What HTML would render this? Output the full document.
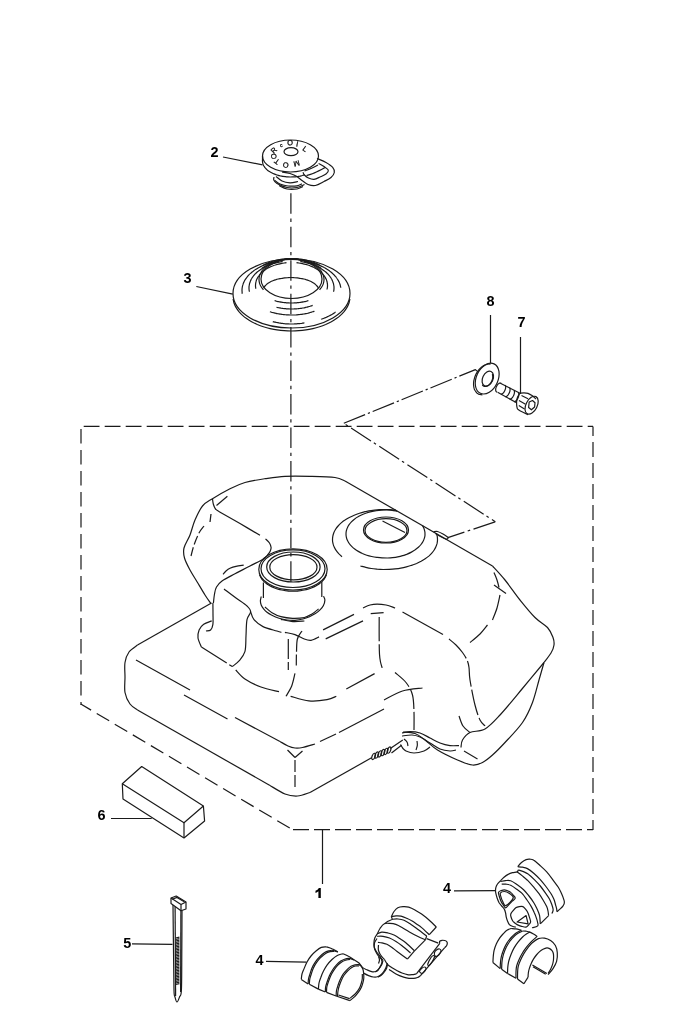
<!DOCTYPE html>
<html><head><meta charset="utf-8"><title>Oil tank</title>
<style>
html,body{margin:0;padding:0;background:#fff;}
body{width:700px;height:1025px;overflow:hidden;font-family:"Liberation Sans",sans-serif;}
svg{display:block;filter:grayscale(1);}
svg path,svg ellipse{fill:none;stroke:#1a1a1a;stroke-width:1.2;stroke-linecap:butt;stroke-linejoin:round;}
svg text{font-family:"Liberation Sans",sans-serif;font-weight:bold;fill:#000;stroke:none;}
</style></head><body>
<svg width="700" height="1025" viewBox="0 0 700 1025">
<rect x="0" y="0" width="700" height="1025" fill="#fff" stroke="none"/>
<path d="M83.7,426.3 L593,426.3" stroke-width="1.55" stroke-dasharray="15.8 5.2"/>
<path d="M81,429 L81,705" stroke-width="1.55" stroke-dasharray="14.5 6.5"/>
<path d="M593,426.4 L593,830" stroke-width="1.55" stroke-dasharray="15 6" stroke-dashoffset="5.4"/>
<path d="M80.8,704 L293,830" stroke-width="1.55" stroke-dasharray="14.5 6.5" stroke-dashoffset="2.5"/>
<path d="M293,829.6 L593,829.6" stroke-width="1.55" stroke-dasharray="16 5"/>
<text transform="translate(210.4 156.9) scale(1.01 1)" x="0" y="0" font-size="14.3">2</text>
<text transform="translate(183.4 283) scale(1.01 1)" x="0" y="0" font-size="14.3">3</text>
<text transform="translate(486.6 306.4) scale(1.01 1)" x="0" y="0" font-size="14.3">8</text>
<text transform="translate(517.6 327) scale(1.01 1)" x="0" y="0" font-size="14.3">7</text>
<text transform="translate(97.4 819.7) scale(1.01 1)" x="0" y="0" font-size="14.3">6</text>
<path d="M320.8,897.9 L318.4,897.9 L318.4,891.2 C317.5,892 316.6,892.6 315.5,893 L315.5,890.8 C317,890.1 318.2,889.1 318.9,887.9 L320.8,887.9 Z" style="fill:#000;stroke:none"/>
<text transform="translate(123.2 947.6) scale(1.01 1)" x="0" y="0" font-size="14.3">5</text>
<text transform="translate(255.4 964.8) scale(1.01 1)" x="0" y="0" font-size="14.3">4</text>
<text transform="translate(443 893) scale(1.01 1)" x="0" y="0" font-size="14.3">4</text>
<path d="M223,157 L262.5,164.8" stroke-width="1.45"/>
<path d="M196.3,286.5 L232.8,294.2" stroke-width="1.45"/>
<path d="M490.5,315 L490.5,363" stroke-width="1.3"/>
<path d="M520.5,337 L520.5,394" stroke-width="1.3"/>
<path d="M111,818.5 L151.7,818.5" stroke-width="1.3"/>
<path d="M322.5,830 L322.5,884" stroke-width="1.5"/>
<path d="M132,943.8 L172.5,944.4" stroke-width="1.45"/>
<path d="M266,961.4 L306.4,962.2" stroke-width="1.45"/>
<path d="M454,890.8 L496,890.6" stroke-width="1.45"/>
<path d="M290.9,193.3 L290.9,581.7" stroke-width="1.25" stroke-dasharray="20.5 4.8 3.3 4.85"/>
<path d="M343.8,423.3 L475.4,369.6 L478.3,372.1" stroke-width="1.2" stroke-dasharray="23 3 2.2 3"/>
<path d="M343.8,423.3 L495.3,521.8" stroke-width="1.2" stroke-dasharray="23.7 3.4 2.6 3.9" stroke-dashoffset="24.9"/>
<path d="M495.3,521.8 L447.9,537.6" stroke-width="1.2" stroke-dasharray="22 3.5 2.6 3.5 30 0" stroke-dashoffset="-1"/>
<path d="M211,603.7 C210,602.2 207.2,598.5 205,595 C202.8,591.5 200,586.7 197.5,582.5 C195,578.3 192.2,574.1 190,570 C187.8,565.9 185.5,561.7 184.5,558 C183.5,554.3 183.1,551.8 184,548 C184.9,544.2 188.2,539.7 190,535 C191.8,530.3 192.9,524.8 195,520 C197.1,515.2 199.6,509.6 202.5,506 C205.4,502.4 207.9,501.6 212.5,498.7 C217.1,495.8 224.6,491.4 230,488.7 C235.4,486 239.2,484.2 245,482.5 C250.8,480.8 258.3,479.7 265,478.7 C271.7,477.7 277.5,476.7 285,476.3 C292.5,475.9 301.7,476.1 310,476.3 C318.3,476.5 329.2,476.7 335,477.5 C340.8,478.3 343.3,480.4 345,481" stroke-width="1.3"/>
<path d="M345,481 L492.5,566" stroke-width="1.3"/>
<path d="M492.5,566 C494.6,568.3 500.4,574.3 505,580 C509.6,585.7 515,593.8 520,600 C525,606.2 530.4,612.9 535,617.5 C539.6,622.1 544.5,624.2 547.5,627.5 C550.5,630.8 551.9,634.6 553,637.5 C554.1,640.4 554.3,642.4 554,645 C553.7,647.6 552.7,650.1 551,653 C549.3,655.9 545.2,660.9 544,662.5" stroke-width="1.3"/>
<path d="M544,662.5 C543.2,665.4 540.9,673.3 539,680 C537.1,686.7 535.2,695.4 532.5,702.5 C529.8,709.6 527.1,715.8 522.5,722.5 C517.9,729.2 510,737.1 505,742.5 C500,747.9 496.2,751.7 492.5,755 C488.8,758.3 485.8,760.8 482.5,762.5 C479.2,764.2 476.7,765.4 472.5,765 C468.3,764.6 463.3,762.5 457.5,760 C451.7,757.5 442.9,753.3 437.5,750 C432.1,746.7 428.8,742.8 425,740 C421.2,737.2 418.7,734.8 415,733.5 C411.3,732.2 405,732.2 403,732" stroke-width="1.3"/>
<path d="M211.5,603 L137.5,645" stroke-width="1.3"/>
<path d="M137.5,645 C136.1,646.2 131.1,649.1 129,652 C126.9,654.9 125.7,658.3 125,662.5 C124.3,666.7 125,672 125,677 C125,682 124.2,688 125,692.5 C125.8,697 127.9,701.1 130,704 C132.1,706.9 136.2,709 137.5,710" stroke-width="1.3"/>
<path d="M137.5,710 L270,785.5" stroke-width="1.3"/>
<path d="M270,785.5 C272.5,786.9 280.4,792.2 285,794 C289.6,795.8 293.3,796.2 297.5,796 C301.7,795.8 307.9,793.1 310,792.5" stroke-width="1.3"/>
<path d="M310,792.5 L371.5,757.8" stroke-width="1.3"/>
<path d="M544,662.5 C540.3,666.9 529.3,680.2 522,689 C514.7,697.8 506.2,708.3 500,715 C493.8,721.7 490,726.1 485,729 C480,731.9 473.8,730.7 470,732.5 C466.2,734.3 464,737.5 462.5,740 C461,742.5 461.2,746.2 461,747.5" stroke-width="1.3"/>
<path d="M464,751 L477.5,759" stroke-width="1.3"/>
<path d="M459,716 C459.7,717.7 461.2,723.2 463,726 C464.8,728.8 468.8,731.4 470,732.5" stroke-width="1.3"/>
<path d="M402,733 C403.3,732.8 407,731.6 410,731.6 C413,731.6 416.7,731.9 420,733 C423.3,734.1 426.7,736.3 430,738 C433.3,739.7 436.7,741.7 440,743 C443.3,744.3 446.8,745.2 450,745.6 C453.2,746 457.5,745.6 459,745.6" stroke-width="1.3"/>
<path d="M402,736 C403.7,735.8 409,734.8 412,735 C415,735.2 417,735.7 420,737 C423,738.3 426.7,741 430,743 C433.3,745 436.7,747.7 440,749 C443.3,750.3 447.3,750.8 450,751 C452.7,751.2 455,750.2 456,750" stroke-width="1.3"/>
<path d="M400.5,744.5 C400.9,745.2 402.1,747.4 403,748.5 C403.9,749.6 404.2,750.2 406,751 C407.8,751.8 411,753 414,753 C417,753 421.3,752 424,751 C426.7,750 429,747.7 430,747" stroke-width="1.3"/>
<path d="M404,739 C404.5,739.5 406.3,740.8 407,742 C407.7,743.2 407.8,745.3 408,746" stroke-width="1.3"/>
<path d="M417,741 C417.1,741.8 417.5,744 417.3,745.5 C417.1,747 416.2,749.2 416,750" stroke-width="1.3"/>
<ellipse cx="373.6" cy="756.4" rx="1.5" ry="3.3" stroke-width="0.95" transform="rotate(22 373.6 756.4)"/>
<ellipse cx="376.7" cy="755.1" rx="1.5" ry="3.3" stroke-width="0.95" transform="rotate(22 376.7 755.1)"/>
<ellipse cx="379.8" cy="753.9" rx="1.5" ry="3.3" stroke-width="0.95" transform="rotate(22 379.8 753.9)"/>
<ellipse cx="382.9" cy="752.6" rx="1.5" ry="3.3" stroke-width="0.95" transform="rotate(22 382.9 752.6)"/>
<ellipse cx="386" cy="751.4" rx="1.5" ry="3.3" stroke-width="0.95" transform="rotate(22 386 751.4)"/>
<ellipse cx="389.1" cy="750.1" rx="1.5" ry="3.3" stroke-width="0.95" transform="rotate(22 389.1 750.1)"/>
<path d="M390.3,748.6 L402.8,740" stroke-width="1.1"/>
<path d="M391.5,753 L401.5,745.2" stroke-width="1.1"/>
<path d="M227.4,496.3 L216.5,505.5" stroke-width="1.3"/>
<path d="M211,514 L210,522" stroke-width="1.3"/>
<path d="M204,526 C203.2,527.2 200.7,529.8 199,533 C197.3,536.2 195.3,541.2 194,545 C192.7,548.8 191.5,554.2 191,556" stroke-width="1.3" stroke-dasharray="9 3"/>
<path d="M212.5,498.8 C212.6,499.7 212.8,502.3 213.3,504 C213.8,505.7 214.4,507.7 215.5,509 C216.6,510.3 215.6,509.5 219.7,511.9 C223.8,514.3 233.3,519.7 240,523.6 C246.7,527.5 256.7,533.3 260,535.3" stroke-width="1.3"/>
<path d="M265.5,538.8 C266.2,539.5 268.6,541.5 269.5,543 C270.4,544.5 271,546.2 271.1,547.5 C271.2,548.8 270.8,549.8 270.3,551 C269.8,552.2 269.1,553.2 268,554.5 C266.9,555.8 266.4,557 263.4,558.9 C260.4,560.8 254.7,563.5 250,566 C245.3,568.5 239.7,571.3 235,573.8 C230.3,576.3 225.1,578.8 222,581 C218.9,583.2 217.8,584.8 216.5,587 C215.2,589.2 215,591.3 214.5,594 C214,596.7 213.6,601.5 213.4,603" stroke-width="1.3"/>
<path d="M223.1,574.3 C223.6,573.8 224.8,572 226,571 C227.2,570 228.3,569.1 230,568.3 C231.7,567.5 233.7,566.8 236,566.3 C238.3,565.8 242.4,565.4 243.7,565.2" stroke-width="1.3"/>
<path d="M212.9,603 C212.9,604.8 213,610.5 213,614 C213,617.5 213.3,621.6 212.9,624.3 C212.5,627 211.8,628.9 210.6,630 C209.4,631.1 206.8,630.8 206,631" stroke-width="1.3"/>
<path d="M211.7,620.9 C210.4,621.5 205.8,622.8 203.7,624.3 C201.6,625.8 200,627.7 199.1,630 C198.2,632.3 197.6,635.2 198,638 C198.4,640.8 200.8,645.5 201.4,647" stroke-width="1.3"/>
<path d="M201.4,647 L232.3,666.6" stroke-width="1.3" stroke-dasharray="30 3"/>
<path d="M224,589 C226,590.5 232.2,595.2 236,598 C239.8,600.8 244.6,603.7 247,606 C249.4,608.3 250.6,609.4 250.6,611.7 C250.6,614 247.8,615.7 247,619.7 C246.2,623.7 246.3,630.4 246,635.7 C245.7,641 246.1,647.5 244.9,651.7 C243.7,655.9 241.1,658.4 239,660.9 C236.9,663.4 233.4,665.6 232.3,666.6" stroke-width="1.3"/>
<path d="M250.6,611.7 C251.2,613 251.9,617.2 254,619.7 C256.1,622.2 259.2,624.7 263,626.6 C266.8,628.5 273.8,630 276.9,631 C280,632 280.6,632.1 281.4,632.3" stroke-width="1.3"/>
<path d="M284.9,632.3 C286.6,632.7 291.8,633.5 295,634.6 C298.2,635.7 301.6,638 304.3,639 C307,640 308.6,640.6 311,640.3 C313.4,639.9 317.7,637.5 319,636.9" stroke-width="1.3"/>
<path d="M323.1,629.9 L354,614.4" stroke-width="1.3"/>
<path d="M325.7,638.9 L363,620.9" stroke-width="1.3"/>
<path d="M363,608 C364.2,607.5 367.6,605.6 370,605 C372.4,604.4 374.4,604.1 377.1,604.1 C379.8,604.1 383,604.4 386,605 C389,605.6 393.6,607.5 395.1,608" stroke-width="1.3"/>
<path d="M370.7,613.7 L383.6,612.6" stroke-width="1.3"/>
<path d="M288.3,639 L288.3,670" stroke-width="1.3" stroke-dasharray="20 3"/>
<path d="M302,631 C301.2,632.3 298.3,635.5 297.4,639 C296.5,642.5 296.7,647.6 296.5,652 C296.3,656.4 296.3,663.2 296.3,665.4" stroke-width="1.3" stroke-dasharray="22 3"/>
<path d="M295,673.4 C294.4,675.5 293.2,682.2 291.7,686 C290.2,689.8 286.9,694.6 286,696.3" stroke-width="1.3"/>
<path d="M235.7,670 C237.2,671.5 240.7,676.2 244.9,679 C249.1,681.8 255.2,684.9 260.9,687 C266.6,689.1 276,690.9 279,691.7" stroke-width="1.3"/>
<path d="M290.6,696.3 C293.7,697.1 302.8,700.3 308.9,700.9 C315,701.5 322.4,700.5 327,699.7 C331.6,698.9 334.8,696.9 336.3,696.3" stroke-width="1.3"/>
<path d="M346.3,689 L374.6,673.6" stroke-width="1.3"/>
<path d="M136,660 L190,690" stroke-width="1.3"/>
<path d="M184,695 L227.5,719" stroke-width="1.3"/>
<path d="M235,717.5 L280,741.5" stroke-width="1.3"/>
<path d="M280,741.5 C281.3,742.2 285.5,744.9 288,746 C290.5,747.1 292.6,747.8 295,748 C297.4,748.2 299.2,748.2 302.5,747.5 C305.8,746.8 312.9,744.6 315,744" stroke-width="1.3"/>
<path d="M320,741.5 L336,734" stroke-width="1.3"/>
<path d="M339,732.5 L384,709" stroke-width="1.3"/>
<path d="M384,700 C387.1,698.5 396.1,693 402.5,691 C408.9,689 419.2,688.5 422.5,688" stroke-width="1.3"/>
<path d="M287.5,750 L295,757.5" stroke-width="1.3"/>
<path d="M302.5,751 L295,757.5" stroke-width="1.3"/>
<path d="M295,760 L295,790" stroke-width="1.3" stroke-dasharray="12 3"/>
<path d="M379.2,617 C379.2,620.8 379.1,633.8 379.2,640 C379.2,646.2 379.3,650.6 379.5,654.3 C379.7,658 380,659.6 380.5,662 C381,664.4 382,667.3 382.3,668.4" stroke-width="1.3" stroke-dasharray="24 3"/>
<path d="M395,672.5 C396.8,674.2 403.1,678.8 406,682.5 C408.9,686.2 411.2,690 412.5,695 C413.8,700 413.8,706.7 414,712.5 C414.2,718.3 414,727.1 414,730" stroke-width="1.3" stroke-dasharray="20 3"/>
<path d="M402.5,612 L443,634.5" stroke-width="1.3"/>
<path d="M449,639 C450.2,640 453.8,642.8 456,645 C458.2,647.2 460.7,650 462.5,652.5 C464.3,655 465.9,657.5 467,660 C468.1,662.5 468.5,664.2 469,667.5 C469.5,670.8 469,673.8 470,680 C471,686.2 473.3,698.3 475,705 C476.7,711.7 478.3,716.5 480,720 C481.7,723.5 484.2,725 485,726" stroke-width="1.3" stroke-dasharray="26 3"/>
<path d="M494,572.5 C494.5,573.8 496.2,577.5 497,580 C497.8,582.5 498.7,586.2 499,587.5" stroke-width="1.3"/>
<path d="M494,585 L506,593.5" stroke-width="1.3"/>
<path d="M500,595 C499.5,597.2 498.2,603.8 497,608 C495.8,612.2 493.2,618 492.5,620" stroke-width="1.3"/>
<path d="M487.5,625 C486.2,626.5 482.9,631.1 480,634 C477.1,636.9 471.7,641.1 470,642.5" stroke-width="1.3"/>
<ellipse cx="293" cy="569.4" rx="34.2" ry="20.6" stroke-width="1.4"/>
<ellipse cx="293" cy="568.7" rx="32" ry="18.8" stroke-width="1.1"/>
<path d="M326.5,574.9 C326.3,575.3 325.8,576.4 325.4,577.1 C325,577.9 324.5,578.6 324,579.3 C323.5,580 322.8,580.7 322.2,581.4 C321.5,582 320.7,582.7 319.9,583.3 C319.2,583.9 318.3,584.5 317.4,585 C316.5,585.6 315.5,586.1 314.5,586.6 C313.5,587.1 312.5,587.6 311.4,588 C310.3,588.4 309.2,588.8 308,589.1 C306.8,589.5 305.6,589.8 304.4,590 C303.2,590.3 302,590.5 300.7,590.7 C299.4,590.8 298.2,591 296.9,591.1 C295.6,591.2 294.3,591.2 293,591.2 C291.7,591.2 290.4,591.2 289.1,591.1 C287.8,591 286.6,590.8 285.3,590.7 C284,590.5 282.8,590.3 281.6,590 C280.4,589.8 279.2,589.5 278,589.1 C276.8,588.8 275.7,588.4 274.6,588 C273.5,587.6 272.5,587.1 271.5,586.6 C270.5,586.1 269.5,585.6 268.6,585 C267.7,584.5 266.8,583.9 266.1,583.3 C265.3,582.7 264.5,582 263.8,581.4 C263.2,580.7 262.5,580 262,579.3 C261.5,578.6 261,577.9 260.6,577.1 C260.2,576.4 259.7,575.3 259.5,574.9" stroke-width="1"/>
<ellipse cx="293.4" cy="567" rx="26.7" ry="15" stroke-width="1.6"/>
<ellipse cx="293.4" cy="567.2" rx="23.6" ry="12.6" stroke-width="1.2"/>
<path d="M263.4,582.5 L263.4,598" stroke-width="1.3"/>
<path d="M321.8,582 L321.8,597" stroke-width="1.3"/>
<path d="M261.2,596.5 C261.1,597.2 260.4,599.6 260.4,601 C260.4,602.4 260.7,603.7 261.2,605 C261.7,606.3 262.6,607.7 263.6,608.9 C264.6,610.1 265.7,611.3 267,612.3 C268.3,613.3 269.4,614 271.4,615 C273.4,616 276.4,617.4 279,618.2 C281.6,619 284.3,619.6 287,620 C289.7,620.4 292.4,620.5 295,620.3 C297.6,620.1 300.5,619.6 302.9,619 C305.3,618.4 307.4,617.6 309.5,616.7 C311.6,615.8 313.6,614.8 315.4,613.6 C317.1,612.5 318.7,611.1 320,609.8 C321.3,608.5 322.5,607.3 323.3,605.7 C324.1,604.1 324.9,601.6 324.9,600 C324.9,598.4 323.7,596.9 323.5,596.3" stroke-width="1.3"/>
<path d="M265,607 C266.2,608 269.4,611.2 272,612.8 C274.6,614.4 277.5,615.8 280.9,616.7 C284.3,617.6 288.6,618.2 292.5,618.3 C296.4,618.4 301.1,618.2 304.4,617.5 C307.6,616.8 309.6,615.4 312,614 C314.4,612.6 317.5,609.8 318.6,608.9" stroke-width="1.3"/>
<path d="M280.9,619.3 C282.9,619.7 289.1,621.3 293,621.6 C296.9,621.9 302.5,621.1 304.4,621" stroke-width="1.3"/>
<ellipse cx="386" cy="530" rx="22.5" ry="13" stroke-width="1.3"/>
<ellipse cx="386" cy="530.5" rx="21" ry="11.8" stroke-width="1"/>
<path d="M422.6,525.7 C422.8,526.2 423.7,527.8 424.1,528.8 C424.4,529.8 424.7,530.9 424.9,532 C425,533 425,534.1 425,535.2 C424.9,536.3 424.7,537.3 424.3,538.4 C424,539.4 423.6,540.5 423,541.5 C422.5,542.5 421.8,543.5 421,544.5 C420.3,545.5 419.4,546.4 418.4,547.3 C417.4,548.2 416.3,549 415.2,549.8 C414,550.6 412.7,551.4 411.4,552.1 C410.1,552.8 408.7,553.5 407.2,554.1 C405.7,554.6 404.2,555.2 402.6,555.6 C401,556.1 399.3,556.5 397.7,556.8 C396,557.2 394.3,557.4 392.5,557.6 C390.8,557.8 389,557.9 387.3,558 C385.5,558 383.7,558 382,557.9 C380.2,557.8 378.5,557.6 376.7,557.4 C375,557.2 373.3,556.9 371.7,556.5 C370,556.1 368.4,555.7 366.8,555.2 C365.3,554.7 363.8,554.1 362.4,553.5 C360.9,552.8 359.6,552.1 358.3,551.4 C357,550.7 355.8,549.9 354.7,549 C353.6,548.2 352.6,547.3 351.7,546.4 C350.8,545.5 349.9,544.5 349.2,543.5 C348.5,542.5 348,541.5 347.5,540.5 C347,539.5 346.6,538.4 346.4,537.3 C346.1,536.3 346,535.2 346,534.1 C346,533.1 346.1,532 346.3,530.9 C346.6,529.9 346.9,528.8 347.4,527.8 C347.8,526.7 348.4,525.7 349.1,524.7 C349.8,523.7 350.5,522.8 351.4,521.8 C352.3,520.9 353.3,520 354.4,519.2 C355.5,518.3 356.7,517.5 358,516.8 C359.2,516 360.6,515.3 362,514.7 C363.4,514.1 364.9,513.5 366.5,513 C368,512.5 369.6,512 371.3,511.6 C372.9,511.2 374.6,510.9 376.3,510.7 C378,510.4 379.8,510.2 381.5,510.1 C383.3,510 385.1,510 386.8,510 C388.6,510 390.4,510.2 392.1,510.3 C393.8,510.5 396.4,511 397.2,511.1" stroke-width="1.3"/>
<path d="M395.9,510.2 C394.9,510.1 391.8,509.7 389.7,509.6 C387.6,509.5 385.5,509.5 383.4,509.5 C381.4,509.5 379.3,509.7 377.2,509.8 C375.1,510 373.1,510.3 371.1,510.6 C369,510.9 367.1,511.3 365.1,511.7 C363.2,512.2 361.3,512.7 359.5,513.3 C357.6,513.9 355.9,514.5 354.2,515.2 C352.5,515.9 350.9,516.7 349.3,517.5 C347.8,518.3 346.3,519.2 345,520.1 C343.6,521 342.4,521.9 341.2,522.9 C340.1,523.9 339,525 338.1,526 C337.1,527.1 336.3,528.2 335.6,529.3 C334.9,530.5 334.3,531.6 333.8,532.8 C333.4,533.9 333,535.1 332.8,536.3 C332.6,537.5 332.5,538.7 332.5,539.9 C332.5,541.1 332.7,542.3 333,543.5 C333.2,544.6 333.6,545.8 334.2,547 C334.7,548.1 335.3,549.3 336.1,550.4 C336.8,551.5 337.7,552.6 338.7,553.7 C339.7,554.7 341.4,556.2 342,556.7" stroke-width="1.3"/>
<path d="M360.4,566 C361.3,566.2 363.9,567 365.8,567.4 C367.6,567.8 369.5,568.2 371.4,568.5 C373.3,568.8 375.3,569 377.2,569.2 C379.2,569.3 381.2,569.4 383.2,569.5 C385.1,569.5 387.1,569.5 389.1,569.4 C391.1,569.3 393.1,569.2 395,568.9 C397,568.7 398.9,568.5 400.8,568.1 C402.7,567.8 404.5,567.4 406.4,566.9 C408.2,566.4 409.9,565.9 411.6,565.3 C413.4,564.8 415,564.1 416.6,563.5 C418.2,562.8 419.7,562 421.1,561.3 C422.6,560.5 423.9,559.7 425.2,558.8 C426.5,557.9 427.7,557 428.8,556.1 C429.9,555.1 430.9,554.1 431.8,553.1 C432.7,552.1 433.5,551.1 434.2,550 C434.9,548.9 435.5,547.9 435.9,546.8 C436.4,545.7 436.8,544.5 437.1,543.4 C437.3,542.3 437.5,541.2 437.5,540 C437.5,538.9 437.4,537.8 437.3,536.6 C437.1,535.5 436.5,533.8 436.4,533.3" stroke-width="1.3"/>
<path d="M382.5,521 L405,532.5" stroke-width="1.3"/>
<path d="M433.5,531.8 C434.2,531.8 435.9,531.1 437.5,531.5 C439.1,531.9 441.2,533 443,534 C444.8,535 447.4,537 448.3,537.6" stroke-width="1"/>
<path d="M435.5,533.5 C436.4,534 439.2,535.8 441,536.8 C442.8,537.8 445.3,539.1 446.5,539.2 C447.7,539.3 448,537.9 448.3,537.6" stroke-width="1"/>
<ellipse cx="291.5" cy="293.5" rx="58.5" ry="34.5" stroke-width="1.2"/>
<path d="M349.9,298.9 C349.7,299.6 349.4,301.8 348.9,303.2 C348.4,304.6 347.8,306 347,307.4 C346.3,308.7 345.3,310.1 344.3,311.4 C343.3,312.6 342.1,313.9 340.7,315.1 C339.4,316.3 338,317.5 336.4,318.6 C334.9,319.7 333.2,320.8 331.4,321.7 C329.6,322.7 327.7,323.6 325.7,324.5 C323.8,325.3 321.7,326.1 319.6,326.8 C317.4,327.5 315.2,328.1 312.9,328.6 C310.7,329.1 308.3,329.6 306,329.9 C303.6,330.3 301.2,330.6 298.8,330.7 C296.4,330.9 293.9,331 291.5,331 C289.1,331 286.6,330.9 284.2,330.7 C281.8,330.6 279.4,330.3 277,329.9 C274.7,329.6 272.3,329.1 270.1,328.6 C267.8,328.1 265.6,327.5 263.4,326.8 C261.3,326.1 259.2,325.3 257.3,324.5 C255.3,323.6 253.4,322.7 251.6,321.7 C249.8,320.8 248.1,319.7 246.6,318.6 C245,317.5 243.6,316.3 242.3,315.1 C240.9,313.9 239.7,312.6 238.7,311.4 C237.7,310.1 236.7,308.7 236,307.4 C235.2,306 234.6,304.6 234.1,303.2 C233.6,301.8 233.3,299.6 233.1,298.9" stroke-width="1.1"/>
<ellipse cx="291.5" cy="279" rx="30.5" ry="19.5" stroke-width="2.6"/>
<path d="M263.4,289.8 C263,289.2 261.6,287.6 261,286.5 C260.3,285.4 259.8,284.2 259.5,283.1 C259.2,281.9 259,280.7 259,279.5 C259,278.3 259.2,277.1 259.5,275.9 C259.8,274.8 260.3,273.6 261,272.5 C261.6,271.4 262.4,270.3 263.4,269.2 C264.3,268.2 265.4,267.2 266.6,266.3 C267.8,265.4 269.2,264.6 270.6,263.8 C272.1,263 273.6,262.3 275.2,261.7 C276.9,261.2 278.6,260.6 280.4,260.2 C282.2,259.8 284,259.5 285.9,259.3 C287.7,259.1 289.6,259 291.5,259 C293.4,259 295.3,259.1 297.1,259.3 C299,259.5 300.8,259.8 302.6,260.2 C304.4,260.6 306.1,261.2 307.8,261.7 C309.4,262.3 310.9,263 312.4,263.8 C313.8,264.6 315.2,265.4 316.4,266.3 C317.6,267.2 318.7,268.2 319.6,269.2 C320.6,270.3 321.4,271.4 322,272.5 C322.7,273.6 323.2,274.8 323.5,275.9 C323.8,277.1 324,278.3 324,279.5 C324,280.7 323.8,281.9 323.5,283.1 C323.2,284.2 322.7,285.4 322,286.5 C321.4,287.6 320,289.2 319.6,289.8" stroke-width="1"/>
<path d="M263.6,288.2 C263.8,287.9 264.1,287.2 264.4,286.7 C264.8,286.2 265.2,285.8 265.6,285.3 C266.1,284.8 266.6,284.4 267.1,283.9 C267.7,283.5 268.3,283.1 268.9,282.7 C269.6,282.3 270.3,281.9 271,281.5 C271.8,281.2 272.6,280.8 273.4,280.5 C274.2,280.2 275.1,279.9 276,279.6 C276.8,279.3 277.8,279.1 278.7,278.9 C279.7,278.6 280.7,278.4 281.7,278.3 C282.6,278.1 283.7,278 284.7,277.8 C285.7,277.7 286.8,277.6 287.8,277.6 C288.9,277.5 289.9,277.5 291,277.5 C292.1,277.5 293.1,277.5 294.2,277.6 C295.2,277.6 296.3,277.7 297.3,277.8 C298.3,278 299.4,278.1 300.3,278.3 C301.3,278.4 302.3,278.6 303.3,278.9 C304.2,279.1 305.2,279.3 306,279.6 C306.9,279.9 307.8,280.2 308.6,280.5 C309.4,280.8 310.2,281.2 311,281.5 C311.7,281.9 312.4,282.3 313.1,282.7 C313.7,283.1 314.3,283.5 314.9,283.9 C315.4,284.4 315.9,284.8 316.4,285.3 C316.8,285.8 317.2,286.2 317.6,286.7 C317.9,287.2 318.2,287.9 318.4,288.2" stroke-width="1"/>
<path d="M255.9,288.7 C255.8,288.5 255.7,287.7 255.6,287.2 C255.5,286.7 255.5,286.2 255.5,285.7 C255.5,285.2 255.5,284.7 255.6,284.2 C255.6,283.7 255.7,283.2 255.8,282.7 C255.9,282.2 256,281.7 256.1,281.2 C256.3,280.7 256.5,280.2 256.6,279.7 C256.8,279.3 257.1,278.8 257.3,278.3 C257.6,277.8 257.8,277.3 258.1,276.9 C258.4,276.4 258.7,276 259.1,275.5 C259.4,275.1 259.8,274.6 260.2,274.2 C260.6,273.7 261,273.3 261.4,272.9 C261.8,272.5 262.3,272.1 262.7,271.7 C263.2,271.3 263.7,270.9 264.2,270.5 C264.7,270.1 265.3,269.7 265.8,269.4 C266.4,269 266.9,268.7 267.5,268.3 C268.1,268 268.7,267.7 269.3,267.4 C270,267.1 270.6,266.8 271.2,266.5 C271.9,266.2 272.6,265.9 273.2,265.7 C273.9,265.4 274.6,265.2 275.3,265 C276,264.7 276.7,264.5 277.4,264.3 C278.2,264.1 278.9,264 279.6,263.8 C280.4,263.6 281.1,263.5 281.9,263.3 C282.6,263.2 283.4,263.1 284.2,263 C284.9,262.9 286.1,262.8 286.5,262.7" stroke-width="1"/>
<path d="M249.4,291.8 C249.4,291.5 249.2,290.6 249.1,290.1 C249.1,289.5 249,289 249,288.4 C249,287.8 249,287.3 249,286.7 C249.1,286.1 249.2,285.6 249.3,285 C249.4,284.5 249.5,283.9 249.6,283.4 C249.8,282.8 250,282.2 250.2,281.7 C250.4,281.2 250.6,280.6 250.9,280.1 C251.1,279.5 251.4,279 251.7,278.5 C252,277.9 252.4,277.4 252.8,276.9 C253.1,276.4 253.5,275.9 253.9,275.4 C254.3,274.9 254.8,274.4 255.2,273.9 C255.7,273.4 256.2,273 256.7,272.5 C257.2,272.1 257.7,271.6 258.3,271.2 C258.8,270.7 259.4,270.3 260,269.9 C260.6,269.5 261.2,269.1 261.8,268.7 C262.5,268.3 263.1,267.9 263.8,267.5 C264.5,267.2 265.2,266.8 265.9,266.5 C266.6,266.1 267.3,265.8 268,265.5 C268.8,265.2 269.5,264.9 270.3,264.6 C271.1,264.3 271.9,264.1 272.6,263.8 C273.4,263.6 274.2,263.3 275.1,263.1 C275.9,262.9 276.7,262.7 277.5,262.5 C278.4,262.3 279.2,262.1 280.1,262 C280.9,261.8 282.2,261.7 282.7,261.6" stroke-width="1"/>
<path d="M242.3,293.7 C242.2,293.4 242.1,292.5 242.1,291.9 C242,291.3 242,290.7 242,290.1 C242,289.6 242.1,289 242.1,288.4 C242.2,287.8 242.3,287.2 242.4,286.6 C242.5,286 242.7,285.4 242.9,284.9 C243,284.3 243.2,283.7 243.5,283.1 C243.7,282.5 244,282 244.2,281.4 C244.5,280.8 244.8,280.3 245.2,279.7 C245.5,279.2 245.9,278.6 246.3,278.1 C246.7,277.6 247.1,277 247.5,276.5 C248,276 248.4,275.5 248.9,274.9 C249.4,274.4 249.9,273.9 250.5,273.4 C251,273 251.6,272.5 252.1,272 C252.7,271.5 253.3,271.1 254,270.6 C254.6,270.2 255.2,269.7 255.9,269.3 C256.6,268.9 257.2,268.5 258,268.1 C258.7,267.7 259.4,267.3 260.1,266.9 C260.9,266.5 261.6,266.2 262.4,265.8 C263.2,265.5 264,265.1 264.8,264.8 C265.6,264.5 266.4,264.2 267.3,263.9 C268.1,263.6 268.9,263.3 269.8,263.1 C270.7,262.8 271.5,262.6 272.4,262.4 C273.3,262.1 274.2,261.9 275.1,261.7 C276,261.5 277.4,261.3 277.9,261.2" stroke-width="1"/>
<path d="M296.5,262.7 C296.9,262.8 298.1,262.9 298.9,263 C299.7,263.1 300.4,263.2 301.2,263.4 C302,263.5 302.8,263.6 303.5,263.8 C304.3,264 305,264.2 305.8,264.4 C306.5,264.6 307.2,264.8 307.9,265 C308.7,265.3 309.4,265.5 310,265.8 C310.7,266 311.4,266.3 312.1,266.6 C312.7,266.9 313.4,267.2 314,267.5 C314.6,267.9 315.2,268.2 315.8,268.5 C316.4,268.9 317,269.2 317.5,269.6 C318.1,270 318.6,270.4 319.1,270.8 C319.7,271.2 320.2,271.6 320.6,272 C321.1,272.4 321.5,272.8 322,273.3 C322.4,273.7 322.8,274.1 323.2,274.6 C323.6,275 323.9,275.5 324.3,276 C324.6,276.4 324.9,276.9 325.2,277.4 C325.5,277.9 325.7,278.3 326,278.8 C326.2,279.3 326.4,279.8 326.6,280.3 C326.8,280.8 326.9,281.3 327,281.8 C327.2,282.3 327.3,282.9 327.3,283.4 C327.4,283.9 327.5,284.4 327.5,284.9 C327.5,285.4 327.5,285.9 327.5,286.4 C327.4,286.9 327.4,287.5 327.3,288 C327.2,288.5 327,289.2 327,289.5" stroke-width="1"/>
<path d="M300.3,261.6 C300.8,261.7 302.1,261.8 302.9,262 C303.8,262.1 304.6,262.3 305.5,262.5 C306.3,262.7 307.1,262.9 307.9,263.1 C308.8,263.3 309.6,263.6 310.4,263.8 C311.1,264.1 311.9,264.3 312.7,264.6 C313.5,264.9 314.2,265.2 315,265.5 C315.7,265.8 316.4,266.1 317.1,266.5 C317.8,266.8 318.5,267.2 319.2,267.5 C319.9,267.9 320.5,268.3 321.2,268.7 C321.8,269.1 322.4,269.5 323,269.9 C323.6,270.3 324.2,270.7 324.7,271.2 C325.3,271.6 325.8,272.1 326.3,272.5 C326.8,273 327.3,273.4 327.8,273.9 C328.2,274.4 328.7,274.9 329.1,275.4 C329.5,275.9 329.9,276.4 330.2,276.9 C330.6,277.4 331,277.9 331.3,278.5 C331.6,279 331.9,279.5 332.1,280.1 C332.4,280.6 332.6,281.2 332.8,281.7 C333,282.2 333.2,282.8 333.4,283.4 C333.5,283.9 333.6,284.5 333.7,285 C333.8,285.6 333.9,286.1 334,286.7 C334,287.3 334,287.8 334,288.4 C334,289 333.9,289.5 333.9,290.1 C333.8,290.6 333.6,291.5 333.6,291.8" stroke-width="1"/>
<path d="M305.1,261.2 C305.5,261.3 306.7,261.5 307.5,261.6 C308.3,261.8 309.1,262 309.8,262.2 C310.6,262.4 311.4,262.6 312.1,262.8 C312.9,263 313.6,263.2 314.4,263.4 C315.1,263.7 315.8,263.9 316.5,264.2 C317.2,264.4 317.9,264.7 318.6,265 C319.3,265.3 320,265.6 320.7,265.9 C321.4,266.2 322,266.5 322.7,266.8 C323.3,267.1 323.9,267.4 324.5,267.8 C325.2,268.1 325.8,268.5 326.3,268.8 C326.9,269.2 327.5,269.6 328.1,269.9 C328.6,270.3 329.2,270.7 329.7,271.1 C330.2,271.5 330.7,271.9 331.2,272.3 C331.7,272.7 332.2,273.1 332.7,273.6 C333.1,274 333.6,274.4 334,274.8 C334.4,275.3 334.8,275.7 335.2,276.2 C335.6,276.6 336,277.1 336.3,277.5 C336.7,278 337,278.5 337.3,279 C337.6,279.4 337.9,279.9 338.2,280.4 C338.5,280.9 338.7,281.3 339,281.8 C339.2,282.3 339.4,282.8 339.6,283.3 C339.8,283.8 340,284.3 340.1,284.8 C340.3,285.3 340.4,285.8 340.5,286.3 C340.6,286.8 340.8,287.6 340.8,287.8" stroke-width="1"/>
<path d="M262,268.4 C262.3,268.1 263.1,267.4 263.8,267 C264.4,266.5 265,266.1 265.7,265.7 C266.3,265.3 267,264.8 267.8,264.5 C268.5,264.1 269.2,263.7 270,263.4 C270.8,263 271.6,262.7 272.4,262.4 C273.2,262 274,261.8 274.9,261.5 C275.7,261.2 276.6,261 277.5,260.7 C278.4,260.5 279.3,260.3 280.2,260.1 C281.1,259.9 282,259.8 282.9,259.6 C283.9,259.5 284.8,259.4 285.8,259.3 C286.7,259.2 287.7,259.1 288.6,259.1 C289.6,259 290.5,259 291.5,259 C292.5,259 293.4,259 294.4,259.1 C295.3,259.1 296.3,259.2 297.2,259.3 C298.2,259.4 299.1,259.5 300.1,259.6 C301,259.8 301.9,259.9 302.8,260.1 C303.7,260.3 304.6,260.5 305.5,260.7 C306.4,261 307.3,261.2 308.1,261.5 C309,261.8 309.8,262 310.6,262.4 C311.4,262.7 312.2,263 313,263.4 C313.8,263.7 314.5,264.1 315.2,264.5 C316,264.8 316.7,265.3 317.3,265.7 C318,266.1 318.6,266.5 319.2,267 C319.9,267.4 320.7,268.1 321,268.4" stroke-width="1"/>
<path d="M262.5,265.7 C262.8,265.5 263.8,264.9 264.5,264.6 C265.1,264.2 265.8,263.9 266.5,263.6 C267.2,263.2 268,262.9 268.7,262.6 C269.5,262.3 270.2,262 271,261.8 C271.8,261.5 272.6,261.3 273.4,261 C274.2,260.8 275,260.6 275.8,260.4 C276.6,260.2 277.5,260 278.3,259.8 C279.2,259.6 280,259.5 280.9,259.3 C281.8,259.2 282.6,259.1 283.5,259 C284.4,258.9 285.3,258.8 286.1,258.7 C287,258.6 287.9,258.6 288.8,258.6 C289.7,258.5 290.6,258.5 291.5,258.5 C292.4,258.5 293.3,258.5 294.2,258.6 C295.1,258.6 296,258.6 296.9,258.7 C297.7,258.8 298.6,258.9 299.5,259 C300.4,259.1 301.2,259.2 302.1,259.3 C303,259.5 303.8,259.6 304.7,259.8 C305.5,260 306.4,260.2 307.2,260.4 C308,260.6 308.8,260.8 309.6,261 C310.4,261.3 311.2,261.5 312,261.8 C312.8,262 313.5,262.3 314.3,262.6 C315,262.9 315.8,263.2 316.5,263.6 C317.2,263.9 317.9,264.2 318.5,264.6 C319.2,264.9 320.2,265.5 320.5,265.7" stroke-width="1"/>
<path d="M308.4,300.7 C308.2,300.7 307.5,300.9 307.1,301 C306.7,301.1 306.2,301.3 305.8,301.4 C305.3,301.5 304.9,301.6 304.4,301.7 C303.9,301.8 303.5,301.9 303,301.9 C302.6,302 302.1,302.1 301.6,302.2 C301.2,302.3 300.7,302.3 300.2,302.4 C299.7,302.5 299.3,302.5 298.8,302.6 C298.3,302.6 297.8,302.7 297.3,302.7 C296.9,302.8 296.4,302.8 295.9,302.9 C295.4,302.9 294.9,302.9 294.4,302.9 C293.9,303 293.5,303 293,303 C292.5,303 292,303 291.5,303 C291,303 290.5,303 290,303 C289.5,303 289.1,303 288.6,302.9 C288.1,302.9 287.6,302.9 287.1,302.9 C286.6,302.8 286.1,302.8 285.7,302.7 C285.2,302.7 284.7,302.6 284.2,302.6 C283.7,302.5 283.3,302.5 282.8,302.4 C282.3,302.3 281.8,302.3 281.4,302.2 C280.9,302.1 280.4,302 280,301.9 C279.5,301.9 279.1,301.8 278.6,301.7 C278.1,301.6 277.7,301.5 277.2,301.4 C276.8,301.3 276.3,301.1 275.9,301 C275.5,300.9 274.8,300.7 274.6,300.7" stroke-width="1"/>
<path d="M312.7,305.4 C312.5,305.4 311.8,305.7 311.3,305.8 C310.9,306 310.4,306.1 310,306.3 C309.5,306.4 309,306.6 308.6,306.7 C308.1,306.8 307.6,307 307.1,307.1 C306.6,307.2 306.2,307.3 305.7,307.4 C305.2,307.6 304.7,307.7 304.2,307.8 C303.7,307.9 303.2,308 302.7,308 C302.2,308.1 301.7,308.2 301.2,308.3 C300.7,308.4 300.2,308.4 299.6,308.5 C299.1,308.6 298.6,308.6 298.1,308.7 C297.6,308.7 297.1,308.8 296.5,308.8 C296,308.8 295.5,308.9 295,308.9 C294.5,308.9 293.9,309 293.4,309 C292.9,309 292.4,309 291.8,309 C291.3,309 290.8,309 290.3,309 C289.8,309 289.2,309 288.7,308.9 C288.2,308.9 287.7,308.9 287.1,308.9 C286.6,308.8 286.1,308.8 285.6,308.7 C285.1,308.7 284.6,308.6 284,308.6 C283.5,308.5 283,308.5 282.5,308.4 C282,308.3 281.5,308.2 281,308.2 C280.5,308.1 280,308 279.5,307.9 C279,307.8 278.5,307.7 278,307.6 C277.5,307.5 276.8,307.3 276.5,307.3" stroke-width="1"/>
<path d="M314.5,311.2 C314.2,311.3 313.4,311.6 312.8,311.8 C312.2,312 311.6,312.2 311.1,312.3 C310.5,312.5 309.9,312.7 309.3,312.8 C308.7,313 308.1,313.1 307.5,313.3 C306.9,313.4 306.3,313.5 305.7,313.6 C305,313.8 304.4,313.9 303.8,314 C303.2,314.1 302.5,314.2 301.9,314.3 C301.3,314.4 300.6,314.4 300,314.5 C299.4,314.6 298.7,314.7 298.1,314.7 C297.5,314.8 296.8,314.8 296.2,314.9 C295.5,314.9 294.9,314.9 294.2,315 C293.6,315 292.9,315 292.3,315 C291.7,315 291,315 290.4,315 C289.7,315 289.1,315 288.4,314.9 C287.8,314.9 287.1,314.9 286.5,314.8 C285.8,314.8 285.2,314.7 284.6,314.7 C283.9,314.6 283.3,314.6 282.7,314.5 C282,314.4 281.4,314.3 280.8,314.2 C280.1,314.1 279.5,314 278.9,313.9 C278.3,313.8 277.6,313.7 277,313.6 C276.4,313.5 275.8,313.3 275.2,313.2 C274.6,313 274,312.9 273.4,312.7 C272.8,312.6 272.2,312.4 271.6,312.3 C271.1,312.1 270.2,311.8 269.9,311.7" stroke-width="1"/>
<path d="M304.4,322.9 C304.2,322.9 303.6,323 303.1,323.1 C302.7,323.2 302.3,323.2 301.8,323.3 C301.4,323.3 300.9,323.4 300.5,323.5 C300.1,323.5 299.6,323.6 299.2,323.6 C298.7,323.7 298.3,323.7 297.8,323.7 C297.4,323.8 297,323.8 296.5,323.8 C296.1,323.9 295.6,323.9 295.2,323.9 C294.7,323.9 294.3,324 293.8,324 C293.4,324 292.9,324 292.5,324 C292,324 291.6,324 291.1,324 C290.7,324 290.2,324 289.8,324 C289.3,324 288.9,324 288.4,323.9 C288,323.9 287.6,323.9 287.1,323.9 C286.7,323.8 286.2,323.8 285.8,323.8 C285.3,323.7 284.9,323.7 284.4,323.7 C284,323.6 283.5,323.6 283.1,323.5 C282.7,323.5 282.2,323.4 281.8,323.4 C281.3,323.3 280.9,323.3 280.5,323.2 C280,323.1 279.6,323.1 279.2,323 C278.7,322.9 278.3,322.8 277.9,322.7 C277.4,322.7 277,322.6 276.6,322.5 C276.1,322.4 275.7,322.3 275.3,322.2 C274.9,322.1 274.4,322 274,321.9 C273.6,321.8 273,321.7 272.8,321.6" stroke-width="1.2"/>
<path d="M335.6,312.1 C335.5,312.1 335.3,312.3 335.1,312.4 C335,312.6 334.8,312.7 334.6,312.8 C334.4,312.9 334.3,313 334.1,313.1 C333.9,313.2 333.7,313.4 333.5,313.5 C333.4,313.6 333.2,313.7 333,313.8 C332.8,313.9 332.6,314 332.5,314.1 C332.3,314.3 332.1,314.4 331.9,314.5 C331.7,314.6 331.5,314.7 331.3,314.8 C331.1,314.9 330.9,315 330.8,315.1 C330.6,315.2 330.4,315.3 330.2,315.4 C330,315.5 329.8,315.6 329.6,315.7 C329.4,315.8 329.2,315.9 329,316 C328.8,316.1 328.6,316.2 328.4,316.3 C328.2,316.4 328,316.5 327.7,316.6 C327.5,316.7 327.3,316.8 327.1,316.9 C326.9,317 326.7,317.1 326.5,317.2 C326.3,317.3 326.1,317.4 325.8,317.5 C325.6,317.6 325.4,317.7 325.2,317.8 C325,317.8 324.8,317.9 324.5,318 C324.3,318.1 324.1,318.2 323.9,318.3 C323.7,318.4 323.4,318.5 323.2,318.5 C323,318.6 322.8,318.7 322.5,318.8 C322.3,318.9 322.1,319 321.9,319 C321.6,319.1 321.3,319.2 321.2,319.3" stroke-width="1.2"/>
<ellipse cx="290.5" cy="156" rx="28" ry="16" stroke-width="1.3"/>
<path d="M304.5,174.9 C304.1,175 303,175.3 302.3,175.5 C301.5,175.7 300.8,175.9 300,176.1 C299.2,176.2 298.4,176.4 297.6,176.5 C296.8,176.6 296,176.7 295.2,176.8 C294.4,176.9 293.6,176.9 292.7,176.9 C291.9,177 291.1,177 290.3,177 C289.4,177 288.6,177 287.8,176.9 C287,176.9 286.1,176.8 285.3,176.7 C284.5,176.6 283.7,176.5 282.9,176.4 C282.1,176.3 281.3,176.1 280.5,176 C279.8,175.8 279,175.6 278.3,175.4 C277.5,175.2 276.8,175 276.1,174.7 C275.4,174.5 274.7,174.2 274,173.9 C273.3,173.7 272.7,173.4 272.1,173 C271.4,172.7 270.8,172.4 270.3,172.1 C269.7,171.7 269.2,171.4 268.6,171 C268.1,170.6 267.6,170.2 267.2,169.9 C266.7,169.5 266.3,169 265.9,168.6 C265.5,168.2 265.1,167.8 264.8,167.4 C264.5,166.9 264.2,166.5 263.9,166 C263.7,165.6 263.4,165.1 263.2,164.7 C263.1,164.2 262.9,163.7 262.8,163.3 C262.7,162.8 262.6,162.3 262.5,161.9 C262.5,161.4 262.5,160.7 262.5,160.4" stroke-width="1.2"/>
<path d="M262.5,156 L262.5,161" stroke-width="1.2"/>
<ellipse cx="291" cy="151.7" rx="7" ry="4" stroke-width="1.5"/>
<path d="M317,158.5 C318.5,159.2 323.4,161 326,162.5 C328.6,164 331.3,165.7 332.7,167.4 C334.1,169.1 334.6,170.8 334.3,172.5 C334,174.2 332.7,176 331,177.5 C329.3,179 326.6,180.2 324,181.5 C321.4,182.8 318.1,185 315.4,185.5 C312.7,186 310.2,185.3 308,184.5 C305.8,183.7 304,181.9 302,180.5 C300,179.1 298,177.2 296,176 C294,174.8 292.3,174.2 290,173.5 C287.7,172.8 283.3,172.2 282,172" stroke-width="1.3"/>
<path d="M318.6,163.5 C319.5,164 322.4,165.4 324,166.5 C325.6,167.6 328,168.9 328.3,170.2 C328.6,171.4 327.4,172.9 326,174 C324.6,175.1 322,176.1 320,177 C318,177.9 315.9,179.1 314,179.3 C312.1,179.5 310.1,178.7 308.5,178 C306.9,177.3 305.3,175.9 304.4,175 C303.5,174.1 303.2,172.8 303,172.3" stroke-width="1.2"/>
<path d="M304.5,171 C305.6,170.6 308.8,169.5 311,168.5 C313.2,167.5 316.8,165.6 318,165" stroke-width="1"/>
<path d="M306.5,175.5 C307.6,175.2 310.5,174.5 313,173.5 C315.5,172.5 319.5,170.5 321.5,169.5 C323.5,168.5 324.4,167.8 325,167.5" stroke-width="1"/>
<path d="M274,177 C274,177.5 273.3,178.9 273.8,180 C274.3,181.1 274.8,182.2 277,183.5 C279.2,184.8 283.7,186.8 287,187.5 C290.3,188.2 294.1,188 297,187.5 C299.9,187 303.2,185 304.5,184.5" stroke-width="1.2"/>
<path d="M275,180.5 C275.8,181.1 277.8,183.1 280,184 C282.2,184.9 285.2,185.7 288,186 C290.8,186.3 294.7,186.2 297,185.8 C299.3,185.4 301.2,184.1 302,183.8" stroke-width="1"/>
<path d="M276,176.5 C277,177.2 279.7,179.9 282,181 C284.3,182.1 287.3,182.7 290,182.8 C292.7,182.9 296.7,181.7 298,181.5" stroke-width="1"/>
<path d="M279,185.5 C280.3,186.1 284,188.4 287,189 C290,189.6 294.3,189.4 297,189 C299.7,188.6 302,186.9 303,186.5" stroke-width="1"/>
<text transform="translate(296.6 163.5) rotate(166)" x="0" y="2.7" text-anchor="middle" font-size="7.4" style="font-weight:normal;stroke:#111;stroke-width:0.3">M</text>
<text transform="translate(285.6 165.1) rotate(-170.5)" x="0" y="2.7" text-anchor="middle" font-size="7.4" style="font-weight:normal;stroke:#111;stroke-width:0.3">O</text>
<text transform="translate(276.9 161.5) rotate(-143.5)" x="0" y="2.7" text-anchor="middle" font-size="7.4" style="font-weight:normal;stroke:#111;stroke-width:0.3">T</text>
<text transform="translate(273.5 156.4) rotate(-99.2)" x="0" y="2.7" text-anchor="middle" font-size="7.4" style="font-weight:normal;stroke:#111;stroke-width:0.3">O</text>
<text transform="translate(273.8 150.1) rotate(-45.3)" x="0" y="2.7" text-anchor="middle" font-size="7.4" style="font-weight:normal;stroke:#111;stroke-width:0.3">R</text>
<text transform="translate(290 142.6) rotate(-0.7)" x="0" y="2.7" text-anchor="middle" font-size="7.4" style="font-weight:normal;stroke:#111;stroke-width:0.3">O</text>
<text transform="translate(297.4 143.9) rotate(11)" x="0" y="2.7" text-anchor="middle" font-size="7.4" style="font-weight:normal;stroke:#111;stroke-width:0.3">I</text>
<text transform="translate(305.2 148.6) rotate(34.8)" x="0" y="2.7" text-anchor="middle" font-size="7.4" style="font-weight:normal;stroke:#111;stroke-width:0.3">L</text>
<text transform="translate(281.2 145.1) rotate(-16.3)" x="0" y="1.8" text-anchor="middle" font-size="5" style="font-weight:normal;stroke:#111;stroke-width:0.3">c</text>
<ellipse cx="487.2" cy="378.6" rx="10.8" ry="16.2" stroke-width="1.2" transform="rotate(25 487.2 378.6)"/>
<path d="M482.4,394.8 C482.2,394.8 481.4,394.8 480.9,394.7 C480.3,394.6 479.9,394.5 479.4,394.4 C478.9,394.2 478.5,394 478,393.8 C477.6,393.5 477.2,393.2 476.8,392.9 C476.4,392.5 476.1,392.1 475.8,391.7 C475.5,391.3 475.2,390.8 474.9,390.3 C474.7,389.8 474.4,389.3 474.2,388.7 C474.1,388.2 473.9,387.6 473.8,386.9 C473.7,386.3 473.6,385.7 473.6,385 C473.5,384.4 473.5,383.7 473.6,383 C473.6,382.3 473.7,381.6 473.8,380.9 C473.9,380.2 474.1,379.5 474.3,378.8 C474.5,378.1 474.7,377.4 474.9,376.7 C475.2,376 475.5,375.3 475.8,374.6 C476.1,374 476.5,373.3 476.9,372.7 C477.2,372 477.7,371.4 478.1,370.8 C478.5,370.2 479,369.7 479.4,369.1 C479.9,368.6 480.4,368.1 480.9,367.7 C481.4,367.2 482,366.8 482.5,366.4 C483,366 483.6,365.7 484.1,365.4 C484.7,365.1 485.2,364.9 485.8,364.7 C486.3,364.5 486.9,364.3 487.4,364.2 C487.9,364.1 488.5,364 489,364 C489.5,364 490.3,364.1 490.5,364.1" stroke-width="1.1"/>
<ellipse cx="487.8" cy="378.6" rx="5.2" ry="7.8" stroke-width="1.2" transform="rotate(25 487.8 378.6)"/>
<path d="M492.2,374 C492.3,374.1 492.4,374.4 492.5,374.7 C492.5,374.9 492.6,375.2 492.6,375.5 C492.7,375.7 492.7,376 492.7,376.3 C492.8,376.6 492.8,376.9 492.7,377.2 C492.7,377.5 492.7,377.8 492.7,378.1 C492.6,378.4 492.6,378.7 492.5,379 C492.4,379.3 492.3,379.6 492.2,379.9 C492.1,380.2 492,380.5 491.9,380.8 C491.8,381.1 491.6,381.4 491.5,381.7 C491.3,381.9 491.2,382.2 491,382.5 C490.8,382.8 490.7,383 490.5,383.3 C490.3,383.5 490.1,383.8 489.9,384 C489.7,384.2 489.5,384.4 489.2,384.6 C489,384.8 488.8,385 488.6,385.2 C488.3,385.3 488.1,385.5 487.9,385.6 C487.6,385.8 487.4,385.9 487.2,386 C486.9,386.1 486.7,386.2 486.5,386.2 C486.2,386.3 486,386.3 485.8,386.4 C485.5,386.4 485.3,386.4 485.1,386.4 C484.9,386.4 484.6,386.4 484.4,386.3 C484.2,386.3 484,386.2 483.8,386.1 C483.6,386 483.4,385.9 483.2,385.8 C483.1,385.7 482.9,385.6 482.7,385.4 C482.6,385.2 482.4,385 482.3,384.9" stroke-width="0.9"/>
<path d="M500.4,383.2 L520,393.3" stroke-width="1.2"/>
<path d="M497.6,392.3 L516.6,402.8" stroke-width="1.2"/>
<path d="M497.2,392.2 C497.1,392.1 496.9,392.1 496.8,392.1 C496.7,392 496.6,392 496.5,391.9 C496.4,391.8 496.3,391.7 496.2,391.6 C496.1,391.5 496,391.4 496,391.2 C495.9,391.1 495.8,391 495.8,390.8 C495.8,390.6 495.7,390.5 495.7,390.3 C495.7,390.1 495.7,389.9 495.7,389.7 C495.7,389.5 495.7,389.3 495.7,389.1 C495.7,388.9 495.7,388.7 495.8,388.5 C495.8,388.3 495.9,388 495.9,387.8 C496,387.6 496.1,387.4 496.2,387.2 C496.3,386.9 496.3,386.7 496.4,386.5 C496.5,386.3 496.7,386.1 496.8,385.9 C496.9,385.7 497,385.5 497.1,385.3 C497.3,385.1 497.4,384.9 497.5,384.7 C497.7,384.6 497.8,384.4 498,384.2 C498.1,384.1 498.3,384 498.4,383.8 C498.6,383.7 498.7,383.6 498.9,383.5 C499,383.4 499.2,383.3 499.3,383.2 C499.5,383.2 499.6,383.1 499.8,383.1 C499.9,383.1 500.1,383 500.2,383 C500.3,383 500.5,383 500.6,383.1 C500.7,383.1 500.8,383.1 500.9,383.2 C501,383.3 501.2,383.4 501.2,383.4" stroke-width="1.2"/>
<path d="M505,385.4 C505.1,385.4 505.2,385.5 505.2,385.6 C505.3,385.6 505.4,385.7 505.4,385.8 C505.5,385.9 505.5,386 505.5,386.1 C505.6,386.2 505.6,386.4 505.6,386.5 C505.6,386.6 505.7,386.8 505.7,386.9 C505.7,387.1 505.7,387.2 505.7,387.4 C505.7,387.5 505.6,387.7 505.6,387.9 C505.6,388.1 505.6,388.2 505.5,388.4 C505.5,388.6 505.5,388.8 505.4,389 C505.4,389.1 505.3,389.3 505.2,389.5 C505.2,389.7 505.1,389.9 505,390.1 C505,390.3 504.9,390.4 504.8,390.6 C504.7,390.8 504.6,391 504.5,391.2 C504.4,391.3 504.3,391.5 504.2,391.7 C504.1,391.9 504,392 503.9,392.2 C503.8,392.3 503.7,392.5 503.6,392.6 C503.5,392.8 503.3,392.9 503.2,393 C503.1,393.2 503,393.3 502.9,393.4 C502.8,393.5 502.6,393.6 502.5,393.7 C502.4,393.8 502.3,393.9 502.2,393.9 C502.1,394 501.9,394 501.8,394.1 C501.7,394.1 501.6,394.2 501.5,394.2 C501.4,394.2 501.3,394.2 501.2,394.2 C501.1,394.2 501,394.2 500.9,394.2" stroke-width="1"/>
<path d="M509.4,387.8 C509.5,387.8 509.6,387.9 509.6,388 C509.7,388.1 509.8,388.2 509.8,388.3 C509.9,388.4 509.9,388.5 509.9,388.6 C510,388.7 510,388.8 510,389 C510,389.1 510.1,389.2 510.1,389.4 C510.1,389.5 510.1,389.7 510.1,389.8 C510.1,390 510,390.2 510,390.3 C510,390.5 510,390.7 509.9,390.9 C509.9,391 509.9,391.2 509.8,391.4 C509.8,391.6 509.7,391.8 509.6,392 C509.6,392.2 509.5,392.3 509.4,392.5 C509.4,392.7 509.3,392.9 509.2,393.1 C509.1,393.3 509,393.4 508.9,393.6 C508.8,393.8 508.7,394 508.6,394.1 C508.5,394.3 508.4,394.5 508.3,394.6 C508.2,394.8 508.1,394.9 508,395.1 C507.9,395.2 507.7,395.4 507.6,395.5 C507.5,395.6 507.4,395.7 507.3,395.8 C507.2,395.9 507,396 506.9,396.1 C506.8,396.2 506.7,396.3 506.6,396.4 C506.5,396.4 506.3,396.5 506.2,396.5 C506.1,396.6 506,396.6 505.9,396.6 C505.8,396.7 505.7,396.7 505.6,396.7 C505.5,396.7 505.4,396.7 505.3,396.7" stroke-width="1"/>
<path d="M513.8,390.3 C513.9,390.3 514,390.4 514,390.5 C514.1,390.5 514.2,390.6 514.2,390.7 C514.3,390.8 514.3,390.9 514.3,391 C514.4,391.1 514.4,391.3 514.4,391.4 C514.4,391.5 514.5,391.7 514.5,391.8 C514.5,392 514.5,392.1 514.5,392.3 C514.5,392.4 514.4,392.6 514.4,392.8 C514.4,393 514.4,393.1 514.3,393.3 C514.3,393.5 514.3,393.7 514.2,393.9 C514.2,394 514.1,394.2 514,394.4 C514,394.6 513.9,394.8 513.8,395 C513.8,395.2 513.7,395.3 513.6,395.5 C513.5,395.7 513.4,395.9 513.3,396.1 C513.2,396.2 513.1,396.4 513,396.6 C512.9,396.8 512.8,396.9 512.7,397.1 C512.6,397.2 512.5,397.4 512.4,397.5 C512.3,397.7 512.1,397.8 512,397.9 C511.9,398.1 511.8,398.2 511.7,398.3 C511.6,398.4 511.4,398.5 511.3,398.6 C511.2,398.7 511.1,398.8 511,398.8 C510.9,398.9 510.7,398.9 510.6,399 C510.5,399 510.4,399.1 510.3,399.1 C510.2,399.1 510.1,399.1 510,399.1 C509.9,399.1 509.8,399.1 509.7,399.1" stroke-width="1"/>
<path d="M518.2,392.7 C518.3,392.7 518.4,392.8 518.4,392.9 C518.5,393 518.6,393.1 518.6,393.2 C518.7,393.3 518.7,393.4 518.7,393.5 C518.8,393.6 518.8,393.7 518.8,393.9 C518.8,394 518.9,394.1 518.9,394.3 C518.9,394.4 518.9,394.6 518.9,394.7 C518.9,394.9 518.8,395.1 518.8,395.2 C518.8,395.4 518.8,395.6 518.7,395.8 C518.7,395.9 518.7,396.1 518.6,396.3 C518.6,396.5 518.5,396.7 518.4,396.9 C518.4,397.1 518.3,397.2 518.2,397.4 C518.2,397.6 518.1,397.8 518,398 C517.9,398.2 517.8,398.3 517.7,398.5 C517.6,398.7 517.5,398.9 517.4,399 C517.3,399.2 517.2,399.4 517.1,399.5 C517,399.7 516.9,399.8 516.8,400 C516.7,400.1 516.5,400.3 516.4,400.4 C516.3,400.5 516.2,400.6 516.1,400.7 C516,400.8 515.8,400.9 515.7,401 C515.6,401.1 515.5,401.2 515.4,401.3 C515.3,401.3 515.1,401.4 515,401.4 C514.9,401.5 514.8,401.5 514.7,401.5 C514.6,401.6 514.5,401.6 514.4,401.6 C514.3,401.6 514.2,401.6 514.1,401.6" stroke-width="1"/>
<path d="M519.9,393.3 C520.6,393.2 522.6,392.8 524,392.8 C525.4,392.8 526.7,392.9 528,393.4 C529.3,393.9 530.7,394.7 532,395.6 C533.3,396.5 535.3,398.4 536,399" stroke-width="1.3"/>
<path d="M517.4,409 C518.2,409.5 520.2,410.9 522,411.8 C523.8,412.7 527.2,414.1 528.2,414.6" stroke-width="1.3"/>
<path d="M519.9,393.3 C519.5,393.9 518.1,395.6 517.6,397 C517.1,398.4 516.8,400.1 516.6,401.5 C516.5,402.9 516.6,404.2 516.7,405.5 C516.8,406.8 517.3,408.4 517.4,409" stroke-width="1.3"/>
<ellipse cx="531.6" cy="405.2" rx="5.6" ry="9.6" stroke-width="1.4" transform="rotate(27 531.6 405.2)"/>
<path d="M529.2,402 L532.5,400.5 L535,402.8 L534.6,407 L531.4,409.8 L528.6,407.5Z" stroke-width="1.1"/>
<path d="M521.5,395.5 L528,398.8" stroke-width="0.8"/>
<path d="M519,400.5 L525.5,404.2" stroke-width="0.8"/>
<path d="M518.8,405.5 L524.5,409" stroke-width="0.8"/>
<path d="M141.7,766.5 L122.3,783.8 L123,799 L184,838 L204.6,821 L203.4,806Z" stroke-width="1.2"/>
<path d="M122.3,783.8 L184,822.7 L203.4,806" stroke-width="1.2"/>
<path d="M184,822.7 L184,838" stroke-width="1.2"/>
<path d="M171,898 L176.2,896 L186,902 L186,909 L181,910.8 L171,903.5Z" stroke-width="1.1"/>
<path d="M171,898 L181,904.5 L186,902" stroke-width="1"/>
<path d="M181,904.5 L181,910.8" stroke-width="1"/>
<path d="M172.2,899.2 L177,897.4 L184.2,901.8" stroke-width="0.8"/>
<path d="M173,905 C173.1,912.5 173.3,935.8 173.5,950 C173.7,964.2 173.8,982.2 174,990 C174.2,997.8 174.5,995 175,997 C175.5,999 176.2,1002 177,1002 C177.8,1002 178.8,999 179.5,997 C180.2,995 181,997.8 181.4,990 C181.8,982.2 181.7,963.3 181.8,950 C181.9,936.7 182,917 182,910.4" stroke-width="1.1"/>
<path d="M175.1,906.5 L175.6,996" stroke-width="0.8"/>
<path d="M180.9,910.5 L180.6,992" stroke-width="2"/>
<path d="M175.6,938 L179.4,937.2" stroke-width="0.7"/>
<path d="M175.6,939.5 L179.4,938.7" stroke-width="0.7"/>
<path d="M175.6,941 L179.4,940.2" stroke-width="0.7"/>
<path d="M175.6,942.5 L179.4,941.7" stroke-width="0.7"/>
<path d="M175.6,944 L179.4,943.2" stroke-width="0.7"/>
<path d="M175.6,945.5 L179.4,944.7" stroke-width="0.7"/>
<path d="M175.6,947 L179.4,946.2" stroke-width="0.7"/>
<path d="M175.6,948.5 L179.4,947.7" stroke-width="0.7"/>
<path d="M175.6,950 L179.4,949.2" stroke-width="0.7"/>
<path d="M175.6,951.5 L179.4,950.7" stroke-width="0.7"/>
<path d="M175.6,953 L179.4,952.2" stroke-width="0.7"/>
<path d="M175.6,954.5 L179.4,953.7" stroke-width="0.7"/>
<path d="M175.6,956 L179.4,955.2" stroke-width="0.7"/>
<path d="M175.6,957.5 L179.4,956.7" stroke-width="0.7"/>
<path d="M175.6,959 L179.4,958.2" stroke-width="0.7"/>
<path d="M175.6,960.5 L179.4,959.7" stroke-width="0.7"/>
<path d="M175.6,962 L179.4,961.2" stroke-width="0.7"/>
<path d="M175.6,963.5 L179.4,962.7" stroke-width="0.7"/>
<path d="M175.6,965 L179.4,964.2" stroke-width="0.7"/>
<path d="M175.6,966.5 L179.4,965.7" stroke-width="0.7"/>
<path d="M175.6,968 L179.4,967.2" stroke-width="0.7"/>
<path d="M175.6,969.5 L179.4,968.7" stroke-width="0.7"/>
<path d="M175.6,971 L179.4,970.2" stroke-width="0.7"/>
<path d="M175.6,972.5 L179.4,971.7" stroke-width="0.7"/>
<path d="M175.6,974 L179.4,973.2" stroke-width="0.7"/>
<path d="M175.6,975.5 L179.4,974.7" stroke-width="0.7"/>
<path d="M175.6,977 L179.4,976.2" stroke-width="0.7"/>
<path d="M175.6,978.5 L179.4,977.7" stroke-width="0.7"/>
<path d="M175.6,980 L179.4,979.2" stroke-width="0.7"/>
<path d="M175.6,981.5 L179.4,980.7" stroke-width="0.7"/>
<path d="M175.6,983 L179.4,982.2" stroke-width="0.7"/>
<path d="M175.6,984.5 L179.4,983.7" stroke-width="0.7"/>
<path d="M301.3,979.4 C301.4,978.5 301.5,975.8 302,974 C302.5,972.2 303.3,970.6 304.1,968.6 C304.9,966.6 305.9,964.1 307,962 C308.1,959.9 309.5,957.8 311,956 C312.5,954.2 314.3,952.4 316,951 C317.7,949.6 319.6,948.1 321.3,947.4 C323,946.7 325.5,947 326.4,946.9" stroke-width="1.35"/>
<path d="M326.4,946.9 C327.3,947.2 330.1,947.9 332,948.8 C333.9,949.6 336.9,951.5 337.9,952" stroke-width="1.35"/>
<path d="M308.1,984 C308.2,983.2 308.2,980.6 308.5,979 C308.8,977.4 309.3,976.1 309.9,974.3 C310.5,972.5 311.1,970.1 312,968 C312.9,965.9 314.3,963.6 315.6,961.7 C316.9,959.8 318.5,958 320,956.5 C321.5,955 323.2,953.6 324.7,952.6 C326.2,951.6 327.7,951.2 329,950.8 C330.3,950.4 331.2,950.1 332.7,950.3 C334.2,950.5 337,951.7 337.9,952" stroke-width="1.35"/>
<path d="M309.3,984.2 C309.4,983.3 309.5,980.6 309.8,979 C310.1,977.4 310.6,976.1 311.2,974.3 C311.8,972.5 312.4,970.2 313.3,968.2 C314.2,966.2 315.5,964 316.8,962.2 C318.1,960.4 319.5,958.7 321,957.2 C322.5,955.8 324.1,954.4 325.6,953.5 C327.1,952.6 328.6,952.1 330,951.7 C331.4,951.3 333.3,951.4 334,951.3" stroke-width="1"/>
<path d="M301.3,979.4 L308.1,984" stroke-width="1.35"/>
<path d="M309.3,984.2 L318.4,989.1" stroke-width="1.35"/>
<path d="M318.4,989.1 C318.5,988.1 318.6,984.9 319,983 C319.4,981.1 319.9,979.7 320.7,977.7 C321.4,975.7 322.4,973.1 323.5,971 C324.6,968.9 325.6,967 327,965.1 C328.4,963.2 330.3,961.1 332,959.5 C333.7,957.9 335.5,956.4 337.3,955.4 C339.1,954.4 342.1,954 343,953.7" stroke-width="1.35"/>
<path d="M343,953.7 C343.9,954.1 346.6,955.2 348.5,956.3 C350.4,957.3 353.4,959.4 354.4,960" stroke-width="1.35"/>
<path d="M325.3,992 C325.4,991.2 325.3,988.6 325.6,987 C325.9,985.4 326.4,984.1 327,982.3 C327.6,980.5 328.4,978.1 329.3,976 C330.2,973.9 331.5,971.6 332.7,969.7 C333.9,967.8 335.2,966.2 336.5,964.8 C337.8,963.4 339.4,962 340.7,961.1 C342,960.2 343.2,959.7 344.5,959.2 C345.8,958.7 347.1,958.2 348.7,958.3 C350.3,958.4 353.4,959.7 354.4,960" stroke-width="1.35"/>
<path d="M326.5,992.4 C326.6,991.5 326.5,988.7 326.8,987 C327.1,985.3 327.6,984.2 328.2,982.4 C328.8,980.6 329.6,978.2 330.5,976.2 C331.4,974.2 332.7,972 333.9,970.2 C335.1,968.4 336.3,966.8 337.6,965.4 C338.9,964 340.4,962.9 341.7,962 C343,961.1 344.1,960.7 345.5,960.2 C346.9,959.8 349.2,959.4 350,959.3" stroke-width="1"/>
<path d="M318.4,989.1 L325.3,992" stroke-width="1.35"/>
<path d="M326.5,992.4 L336.1,996" stroke-width="1.35"/>
<path d="M336.1,996 C336.2,995.1 336.2,992.2 336.5,990.5 C336.8,988.8 337.3,987.5 337.9,985.7 C338.5,984 339.1,981.9 340,980 C340.9,978.1 341.9,976 343,974.3 C344.1,972.6 345.5,971.1 346.8,969.8 C348.1,968.5 349.6,967.1 351,966.3 C352.4,965.5 353.7,965.1 355,964.8 C356.3,964.5 357.9,964.4 359,964.6 C360.1,964.9 360.9,966 361.3,966.3" stroke-width="1.35"/>
<path d="M337.5,996.5 C337.6,995.6 337.7,992.8 338,991 C338.3,989.2 338.6,987.8 339.2,986 C339.8,984.2 340.5,982.2 341.3,980.4 C342.1,978.6 343.1,976.6 344.2,975 C345.3,973.4 346.5,972 347.8,970.8 C349.1,969.5 350.5,968.3 351.8,967.5 C353.1,966.7 354.3,966.2 355.5,966 C356.7,965.8 358.4,966 359,966" stroke-width="1"/>
<path d="M361.3,966.3 C361.6,966.8 362.6,968.4 363,969.5 C363.4,970.6 363.5,971.7 363.6,973.1 C363.7,974.5 363.9,976.5 363.8,978 C363.7,979.5 363.4,980.8 363,982.3 C362.6,983.8 362.2,985.5 361.5,987 C360.8,988.5 360.1,989.9 359,991.4 C357.9,992.9 356.5,994.8 355,996.3 C353.5,997.8 350.8,999.9 349.9,1000.6" stroke-width="1.35"/>
<path d="M362.3,974 C362.3,974.8 362.4,977.1 362.3,978.5 C362.2,979.9 361.9,981.1 361.5,982.5 C361.1,983.9 360.6,985.6 360,987 C359.4,988.4 358.7,989.5 357.7,990.8 C356.7,992.1 355.4,993.7 354,995 C352.6,996.3 350.2,998 349.5,998.6" stroke-width="1"/>
<path d="M336.1,996 L349.9,1000.6" stroke-width="1.35"/>
<path d="M338.5,995 L349.5,998.6" stroke-width="1"/>
<path d="M354.4,960 C355.2,960.5 357.7,961.8 359,963 C360.3,964.2 361.1,966.3 362.4,967.4 C363.7,968.5 365.4,969.1 367,969.8 C368.6,970.5 370.3,971.3 371.7,971.6 C373.1,971.9 374.4,971.8 375.5,971.5 C376.6,971.2 377.1,971.1 378,970 C378.9,968.9 380.3,966.4 381,965 C381.7,963.6 382.1,962.8 382,961.4 C381.9,960 381.2,958.2 380.4,956.7 C379.6,955.2 378,954 377,952.5 C376,951 374.9,949.6 374.5,948 C374.1,946.4 374.1,944.6 374.5,943 C374.9,941.4 376.6,939.2 377,938.5" stroke-width="1.35"/>
<path d="M363.6,973.1 C364.4,973.5 366.5,974.8 368.1,975.4 C369.7,976 371.7,976.8 373.3,977 C374.9,977.2 376.2,977.2 377.5,976.8 C378.8,976.4 379.9,975.7 381,974.8 C382.1,973.9 383,972.7 383.8,971.5 C384.6,970.3 385.3,969.1 385.9,967.7 C386.5,966.3 387.1,963.8 387.4,963" stroke-width="1.35"/>
<path d="M378.5,963.5 C378.7,962.9 379.5,961.2 379.5,960 C379.5,958.8 378.7,957.1 378.5,956.5" stroke-width="1"/>
<path d="M391.3,916.7 C391.8,915.8 392.9,913 394,911.5 C395.1,910 396.3,908.5 397.8,907.7 C399.3,906.9 401.2,906.7 403,906.6 C404.8,906.5 406.7,906.5 408.7,907.1 C410.7,907.7 412.9,908.8 415,910 C417.1,911.2 419.3,912.4 421.6,914.1 C423.9,915.8 426.6,917.9 429,920 C431.4,922.1 435.1,925.8 436.3,927" stroke-width="1.35"/>
<path d="M436.3,927 L429.3,934.7" stroke-width="1.35"/>
<path d="M391.3,916.7 C392.1,916.6 394.4,916 396,915.9 C397.6,915.8 399.3,915.8 401,916.1 C402.7,916.5 404.3,917.2 406,918 C407.7,918.8 409.6,919.6 411.3,920.6 C413.1,921.6 414.8,922.8 416.5,924 C418.2,925.2 419.5,925.8 421.6,927.6 C423.7,929.4 428,933.5 429.3,934.7" stroke-width="1.7"/>
<path d="M391.3,916.7 C391.4,917.1 392.6,918.5 392,919.3 C391.4,920 389.3,920.5 388,921.2 C386.7,922 384.9,923.4 384.3,923.8" stroke-width="1.1"/>
<path d="M392,919.3 C393,919.2 396,918.8 398,919 C400,919.2 401.8,919.4 404,920.3 C406.2,921.2 408.7,923 411,924.5 C413.3,926 415.4,927.6 418,929.5 C420.6,931.4 425.2,934.9 426.7,936" stroke-width="1.35"/>
<path d="M426.7,936 L425.4,939.8" stroke-width="1.35"/>
<path d="M377.2,934 C377.7,933.1 378.8,930.2 380,928.5 C381.2,926.8 382.6,924.6 384.3,923.8 C386,922.9 388.1,923.3 390,923.4 C391.9,923.5 393.8,923.7 395.8,924.4 C397.8,925.1 399.9,926.3 402,927.5 C404.1,928.7 406.2,930.1 408.7,931.5 C411.2,932.9 414.2,934.6 417,936 C419.8,937.4 424,939.2 425.4,939.8" stroke-width="1.35"/>
<path d="M425.4,939.8 L414.5,950.8" stroke-width="1.35"/>
<path d="M377.2,934 C377.9,933.7 379.9,932.3 381.7,932.1 C383.5,931.9 385.9,932.5 388,933 C390.1,933.5 392.5,934.3 394.6,935.3 C396.7,936.3 398.6,937.7 400.5,939 C402.4,940.3 403.8,941 406.1,943 C408.4,945 413.1,949.5 414.5,950.8" stroke-width="1.7"/>
<path d="M414.5,950.8 L407.4,959.1" stroke-width="1.35"/>
<path d="M377.9,942.4 C378.6,942.5 380.5,942.5 382,942.8 C383.5,943.1 385.2,943.5 386.9,944.3 C388.6,945.1 390.3,946.3 392,947.5 C393.7,948.7 394.5,949.5 397.1,951.4 C399.7,953.3 405.7,957.8 407.4,959.1" stroke-width="1.35"/>
<path d="M377.2,936.3 C378.2,936.3 380.9,936 383,936.3 C385.1,936.6 387.3,937.1 389.5,938 C391.7,938.9 393.9,940.2 396,941.5 C398.1,942.8 399.6,943.9 402,945.8 C404.4,947.7 409.1,951.8 410.5,953" stroke-width="1"/>
<path d="M377.2,934 C376.8,934.7 375.3,936.6 374.8,938 C374.3,939.4 374.1,941.1 374,942.4 C373.9,943.7 373.9,944.9 374,946 C374.1,947.1 374.2,947.6 374.6,948.8 C375,950 375.8,951.7 376.5,953 C377.2,954.3 378,955.4 379.1,956.6 C380.2,957.8 382.4,959.8 383,960.4" stroke-width="1.35"/>
<path d="M378.5,945 C378.5,945.5 378.3,947.1 378.3,948 C378.3,948.9 378.2,949.5 378.5,950.5 C378.8,951.5 379.4,953 380,954 C380.6,955 381.1,955.7 381.8,956.6 C382.5,957.5 383.9,958.8 384.3,959.2" stroke-width="1"/>
<path d="M383,960.4 C382.8,961 382.4,962.9 382,964 C381.6,965.1 381.1,965.8 380.4,966.8 C379.7,967.8 378.9,969.1 378,970 C377.1,970.9 375.8,971.7 375.3,972" stroke-width="1.35"/>
<path d="M387.5,964.3 C387.3,965 387,967.2 386.5,968.5 C386,969.8 385.1,970.9 384.3,972 C383.5,973.1 382.6,974.1 381.5,975 C380.4,975.9 378.5,976.8 377.9,977.1" stroke-width="1.35"/>
<path d="M384.3,959.2 C384.8,960.1 386.2,962.9 387.5,964.3 C388.8,965.7 390.4,966.7 392,967.8 C393.6,968.9 395.4,969.8 397.1,970.7 C398.8,971.6 400.3,972.4 402,973 C403.7,973.6 405.7,974.3 407.4,974.6 C409.1,974.9 410.5,974.8 412,974.7 C413.5,974.6 415.7,974 416.4,973.9" stroke-width="1.35"/>
<path d="M416.4,973.9 L439.6,943.7" stroke-width="1.35"/>
<path d="M389,969.5 C390.2,970.2 393.6,972.7 396,974 C398.4,975.3 401.4,976.4 403.6,977.1 C405.8,977.8 407.3,978.1 409,978.3 C410.7,978.5 412.4,978.5 413.8,978.4 C415.2,978.3 416.4,977.9 417.5,977.5 C418.6,977.1 419.8,976.1 420.3,975.8" stroke-width="1.35"/>
<path d="M420.3,975.8 L444.7,947.6" stroke-width="1.35"/>
<path d="M444.7,947.6 C445,947.2 446.3,946.2 446.7,945.5 C447.1,944.8 447.3,943.8 447.3,943.1 C447.3,942.4 446.9,941.7 446.5,941.3 C446.1,940.9 445.4,940.7 444.7,940.5 C443.9,940.3 442.9,940.2 442,940.3 C441.1,940.4 440,941 439.6,941.1" stroke-width="1.35"/>
<path d="M426.7,938.6 L438.3,943.1" stroke-width="1.35"/>
<path d="M439.6,941.1 L439.6,943.7" stroke-width="1"/>
<path d="M434.5,952.5 C434.8,951.5 435.7,950.6 436.5,950 C437.3,949.4 438.8,948.9 439.5,949 C440.2,949.1 440.9,949.8 441,950.5 C441.1,951.2 440.6,952.6 440,953.5 C439.4,954.4 438.3,955.6 437.5,956 C436.7,956.4 435.5,956.6 435,956 C434.5,955.4 434.2,953.5 434.5,952.5Z" stroke-width="1"/>
<path d="M431,957.5 C431.9,956.1 432.9,955.6 433.5,955.5 C434.1,955.4 434.8,955.9 434.5,957 C434.2,958.1 432.9,960.6 432,962 C431.1,963.4 429.7,965.2 429,965.5 C428.3,965.8 427.5,965.3 427.8,964 C428.1,962.7 430.1,958.9 431,957.5Z" stroke-width="1"/>
<path d="M419.5,971.5 C419.4,970.7 420.7,969.2 421.5,968.5 C422.3,967.8 423.8,967 424.5,967 C425.2,967 426,967.8 426,968.5 C426,969.2 425.2,970.7 424.5,971.5 C423.8,972.3 422.8,973.5 422,973.5 C421.2,973.5 419.6,972.3 419.5,971.5Z" stroke-width="1"/>
<path d="M517.8,866.7 C518.4,866 520.1,863.7 521.5,862.5 C522.9,861.3 524.7,860.1 526.1,859.6 C527.5,859.1 528.7,859.1 530,859.2 C531.3,859.3 532.1,859.2 533.8,860.3 C535.5,861.3 537.9,863.6 540,865.5 C542.1,867.4 544.6,869.6 546.7,871.9 C548.8,874.2 550.6,876.7 552.5,879.3 C554.4,881.9 556.8,884.9 558.3,887.3 C559.8,889.7 560.5,891.4 561.5,893.5 C562.5,895.6 563.5,898.5 564,900.1 C564.5,901.7 564.4,902.1 564.3,903 C564.2,903.9 564,904.3 563.4,905.3 C562.8,906.2 561.6,907.6 560.5,908.7 C559.4,909.8 557.6,911.2 557,911.7" stroke-width="1.35"/>
<path d="M517.8,866.7 C518.6,866.8 520.9,866.9 522.5,867.2 C524.1,867.5 525.5,867.6 527.4,868.6 C529.3,869.6 531.9,871.7 534,873.5 C536.1,875.3 538.2,877.4 540.3,879.6 C542.3,881.9 544.4,884.4 546.3,887 C548.2,889.6 550.5,892.8 551.8,895 C553.1,897.2 553.6,898.6 554.3,900.3 C554.9,902 555.3,903.9 555.7,905.3 C556.1,906.7 556.4,907.6 556.6,908.7 C556.8,909.8 556.9,911.2 557,911.7" stroke-width="1.7"/>
<path d="M518.4,869.9 C519.2,870.2 521.8,870.9 523.5,871.6 C525.2,872.4 526.9,873 528.7,874.4 C530.6,875.8 532.7,877.9 534.6,879.8 C536.5,881.7 538.6,883.9 540.3,886 C542,888.1 543.5,890.2 545,892.3 C546.5,894.4 548.2,896.8 549.3,898.8 C550.4,900.8 551.1,902.6 551.7,904.3 C552.3,906 552.9,907.9 553.1,909.1 C553.3,910.3 553,910.8 552.8,911.5 C552.6,912.2 552,913.2 551.8,913.6" stroke-width="1.35"/>
<path d="M500.4,880.8 C501,880.2 502.7,878.3 504,877.2 C505.3,876.1 506.7,875.1 508.1,874.4 C509.5,873.6 511,873.1 512.5,872.7 C514,872.3 516.1,872.4 517.1,871.9 C518.1,871.4 518.2,870.2 518.4,869.9" stroke-width="1.35"/>
<path d="M517.1,871.9 C517.9,872.5 520.3,874.2 522,875.6 C523.7,877 525.5,878.4 527.4,880.2 C529.3,882.1 531.4,884.5 533.3,886.7 C535.2,889 537.4,891.5 539,893.7 C540.6,896 541.9,898.1 543.2,900.2 C544.5,902.4 545.9,904.8 546.7,906.6 C547.5,908.4 547.7,909.5 548,911 C548.3,912.5 548.5,914.8 548.6,915.6" stroke-width="1.35"/>
<path d="M548.6,915.6 L540.3,923.9" stroke-width="1.35"/>
<path d="M500.4,881.5 C501.2,881.4 503.8,880.7 505.5,880.6 C507.2,880.5 508.7,880.1 510.7,880.8 C512.7,881.5 515.1,883.3 517.3,884.8 C519.4,886.3 521.6,887.9 523.6,889.8 C525.6,891.7 527.3,893.9 529,896 C530.7,898.1 532.4,900.5 533.8,902.7 C535.2,904.9 536.2,907.1 537.2,909.2 C538.2,911.4 539.1,913.2 539.6,915.6 C540.1,918 540.2,922.5 540.3,923.9" stroke-width="1.7"/>
<path d="M500.4,880.8 C499.9,881.3 498.2,882.9 497.5,884 C496.8,885.1 496.2,886.2 495.9,887.3 C495.6,888.4 495.5,889.4 495.5,890.5 C495.5,891.6 495.6,892.4 495.9,893.7 C496.2,895 496.7,896.8 497.2,898.3 C497.7,899.8 498.4,901.4 499.1,902.7 C499.9,904 500.8,904.9 501.7,906 C502.6,907.1 503.6,907.9 504.3,909.1 C505,910.3 505.3,911.7 505.6,913 C505.9,914.3 505.9,915.5 506.2,916.8 C506.5,918.1 507,919.7 507.5,921 C508,922.3 508.6,923.7 509.4,924.6 C510.2,925.5 511.2,925.9 512.3,926.3 C513.4,926.7 515.2,927 515.8,927.1" stroke-width="1.35"/>
<path d="M501.7,884.1 C502.4,884.1 504.5,884 506,884.2 C507.5,884.4 508.9,884.5 510.7,885.3 C512.5,886.1 514.8,887.8 516.7,889.2 C518.6,890.6 520.6,891.9 522.3,893.7 C524,895.5 525.5,897.9 527,900 C528.5,902.1 530.1,904.5 531.3,906.6 C532.5,908.7 533.4,910.6 534.2,912.5 C535.1,914.4 535.9,916.5 536.4,918.1 C536.9,919.7 537.3,920.7 537.5,922 C537.7,923.3 538.6,924.8 537.7,925.8 C536.8,926.8 533,927.5 532,927.8" stroke-width="1.35"/>
<path d="M498.5,892.4 C498.8,891.3 500.2,891 501.2,890.6 C502.2,890.2 503.2,889.8 504.3,889.8 C505.4,889.8 506.5,890.3 507.6,890.7 C508.7,891.1 509.8,891.6 510.7,892.4 C511.6,893.1 512.5,894.2 513.2,895.2 C514,896.2 515.4,897.2 515.2,898.2 C515.1,899.2 513.3,900.2 512.3,901.2 C511.3,902.2 510.5,902.9 509.4,904 C508.3,905.1 506.6,907.7 505.6,907.8 C504.6,907.9 503.9,905.8 503.2,904.7 C502.4,903.6 501.7,902.7 501.1,901.4 C500.5,900.1 499.9,898.5 499.5,897 C499.1,895.5 498.2,893.5 498.5,892.4Z" stroke-width="1.35"/>
<path d="M500.3,893.2 C500.9,892.3 502.8,891.5 504.3,891.5 C505.8,891.5 508,892.4 509.5,893.5 C511,894.6 513.8,896 513.2,898 C512.6,900 507.6,905.2 505.8,905.7 C504,906.2 503.3,902.5 502.5,901 C501.7,899.5 501.4,898.3 501,897 C500.6,895.7 499.8,894.1 500.3,893.2Z" stroke-width="0.8"/>
<path d="M510.7,914.3 C511,913.2 512.1,911.9 513,910.8 C513.9,909.7 514.8,908.5 515.8,907.8 C516.8,907.1 518.1,906.8 519.3,906.6 C520.5,906.4 521.9,906.2 522.9,906.6 C523.9,907 524.5,907.9 525.3,908.8 C526,909.6 526.7,910.4 527.4,911.7 C528.1,913 528.8,915.1 529.3,916.8 C529.8,918.5 530.7,920.7 530.6,922 C530.5,923.3 529.5,923.9 528.7,924.8 C528,925.6 527.3,926.9 526.1,927.1 C524.9,927.4 523,926.7 521.5,926.3 C520,925.9 518.3,925.2 517.1,924.6 C515.9,924 515.2,923.4 514.5,922.8 C513.8,922.1 513.1,921.6 512.6,920.7 C512.1,919.8 511.5,918.6 511.2,917.5 C510.9,916.4 510.4,915.4 510.7,914.3Z" stroke-width="1.35"/>
<path d="M517.1,922 L526.1,915.6 L528.1,923.9Z" stroke-width="1"/>
<path d="M492.9,962.5 C493,961.4 493.1,958 493.3,956 C493.5,954 493.6,952.4 494.1,950.4 C494.6,948.4 495.4,946 496.3,944 C497.2,942 498.5,939.9 499.6,938.2 C500.7,936.5 501.8,935.3 503,934 C504.2,932.7 505.5,931.2 506.9,930.3 C508.2,929.4 510.4,928.8 511.1,928.5" stroke-width="1.35"/>
<path d="M511.1,928.5 C511.9,928.6 514.3,928.6 516,928.9 C517.7,929.2 520.5,930.1 521.4,930.3" stroke-width="1.35"/>
<path d="M500.2,968.6 C500.2,967.5 500.3,964 500.5,962 C500.7,960 500.9,958.5 501.4,956.4 C501.9,954.3 502.8,951.7 503.7,949.5 C504.6,947.3 505.7,945 506.9,943.1 C508.1,941.2 509.4,939.6 510.8,938 C512.2,936.4 513.6,934.7 515.4,933.4 C517.2,932.1 520.4,930.8 521.4,930.3" stroke-width="1.35"/>
<path d="M501.6,969.2 C501.7,968.1 501.7,964.6 501.9,962.5 C502.1,960.4 502.3,958.9 502.8,956.8 C503.3,954.7 504.1,952.2 505,950 C505.9,947.8 507,945.6 508.2,943.7 C509.4,941.8 510.6,940.3 512,938.7 C513.4,937.1 514.7,935.5 516.5,934.2 C518.3,932.9 521.6,931.5 522.6,931" stroke-width="1"/>
<path d="M492.9,962.5 L500.2,968.6" stroke-width="1.35"/>
<path d="M501.6,969.2 L507.5,973.4" stroke-width="1.35"/>
<path d="M507.5,973.4 C507.6,972.3 507.6,969 507.8,967 C508,965 508.2,963.4 508.7,961.3 C509.2,959.2 510.1,956.7 511,954.5 C511.9,952.3 512.9,949.9 514.1,947.9 C515.3,945.9 516.6,944 518,942.2 C519.4,940.4 521.3,938.3 522.6,937 C523.9,935.7 524.8,935.1 526,934.3 C527.2,933.5 529.2,932.5 529.9,932.1" stroke-width="1.35"/>
<path d="M522.6,931 C523.2,931 524.8,931 526,931.2 C527.2,931.4 528.6,931.6 529.9,932.1 C531.1,932.6 532.3,933.3 533.5,934 C534.7,934.7 536.6,936 537.2,936.4" stroke-width="1.35"/>
<path d="M516,978.3 C516,977.2 515.9,974 516,972 C516.1,970 516.1,968.2 516.6,966.1 C517.1,964 518.2,961.5 519.2,959.3 C520.2,957.1 521.4,954.8 522.6,952.8 C523.8,950.8 525.1,949 526.5,947.2 C527.9,945.4 529.3,943.7 531.1,941.9 C532.9,940.1 536.2,937.3 537.2,936.4" stroke-width="1.35"/>
<path d="M517.5,979 C517.5,977.9 517.5,974.6 517.6,972.5 C517.7,970.4 517.7,968.6 518.2,966.5 C518.7,964.4 519.7,962 520.7,959.8 C521.7,957.6 522.8,955.4 524,953.4 C525.2,951.4 526.4,949.6 527.8,947.8 C529.2,946 530.5,944.2 532.3,942.7 C534.1,941.2 536.4,939.4 538.4,938.6 C540.4,937.9 542.5,937.9 544.5,938.2 C546.5,938.5 548.8,939.4 550.6,940.6 C552.4,941.8 554.3,943.5 555.4,945.5 C556.5,947.5 557.1,950.2 557.3,952.8 C557.5,955.4 557.3,958.7 556.6,961.3 C555.9,963.9 554.4,966.4 553,968.6 C551.6,970.8 548.9,973.6 548.1,974.6" stroke-width="1.35"/>
<path d="M507.5,973.4 L516,978.3" stroke-width="1.35"/>
<path d="M517.5,979 L523.9,983.8" stroke-width="1.35"/>
<path d="M523.9,983.8 L528.1,977.1" stroke-width="1.35"/>
<path d="M528.1,977.1 C528.1,976.3 528.2,973.9 528.4,972.5 C528.6,971.1 528.8,970.1 529.3,968.6 C529.8,967.1 530.5,965.1 531.2,963.5 C531.9,961.9 532.7,960.3 533.6,958.9 C534.5,957.5 535.4,956.2 536.4,955 C537.4,953.8 538.5,952.6 539.6,951.6 C540.7,950.6 541.8,949.8 543,949.2 C544.2,948.6 545.8,948 546.9,947.9 C548,947.8 548.8,948.2 549.6,948.6 C550.4,949 551.2,949.7 551.8,950.4 C552.4,951.1 552.9,952 553.2,953 C553.5,954 553.6,955.1 553.6,956.4 C553.6,957.6 553.6,959.1 553.4,960.5 C553.2,961.9 552.9,963.4 552.4,964.9 C551.9,966.4 551.3,967.9 550.6,969.3 C549.9,970.7 548.5,972.7 548.1,973.4" stroke-width="1.35"/>
<path d="M532.4,964.9 L546.9,973.4" stroke-width="1.35"/>
<path d="M533,966.7 L545.7,974.2" stroke-width="0.9"/>
</svg>
</body></html>
